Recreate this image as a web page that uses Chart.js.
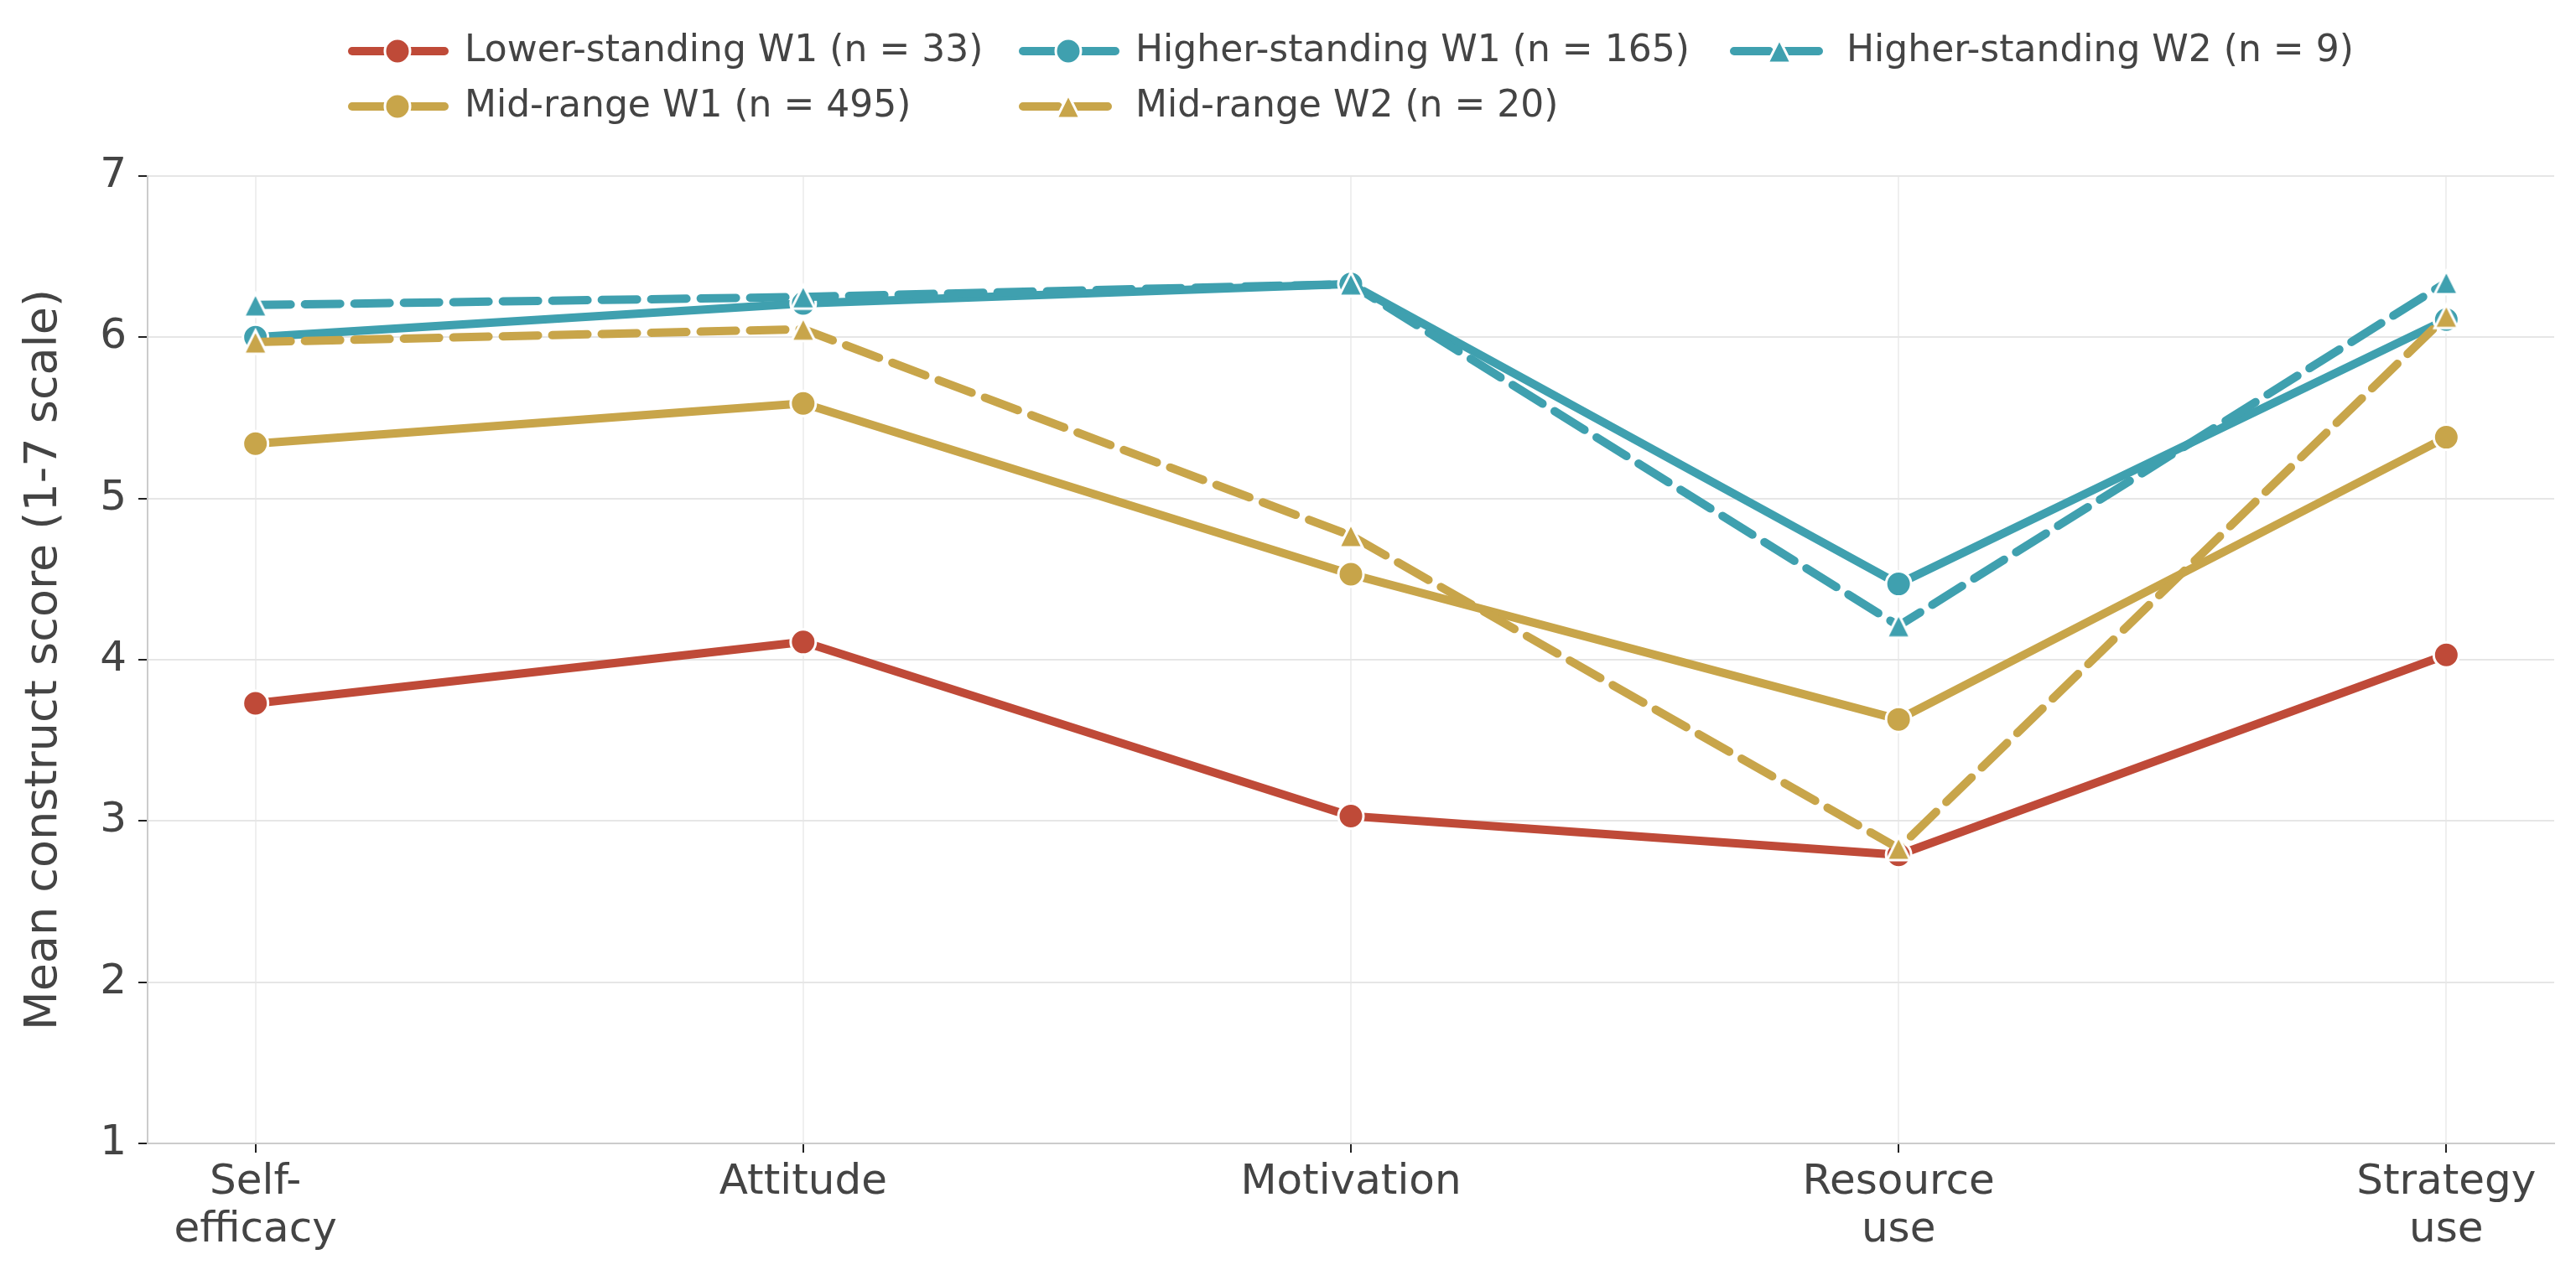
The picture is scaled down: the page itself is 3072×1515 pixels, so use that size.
<!DOCTYPE html>
<html>
<head>
<meta charset="utf-8">
<script src="https://cdn.jsdelivr.net/npm/chart.js@4.4.1/dist/chart.umd.min.js"></script>
<style>
  html, body { margin: 0; padding: 0; background: #ffffff; }
  #wrap { width: 3072px; height: 1515px; position: relative; }
</style>
</head>
<body>
<div id="wrap"><canvas id="c" width="3072" height="1515"></canvas></div>
<script>
// ---- Data ----
const categories = [["Self-", "efficacy"], "Attitude", "Motivation", ["Resource", "use"], ["Strategy", "use"]];
const yTicks = [1, 2, 3, 4, 5, 6, 7];

const seriesNames = [
  "Lower-standing W1 (n = 33)",
  "Higher-standing W1 (n = 165)",
  "Higher-standing W2 (n = 9)",
  "Mid-range W1 (n = 495)",
  "Mid-range W2 (n = 20)"
];
const lowerW1  = [3.73, 4.11, 3.03, 2.79, 4.03];
const midW1    = [5.34, 5.59, 4.53, 3.63, 5.38];
const higherW1 = [6.00, 6.21, 6.33, 4.47, 6.11];
const midW2    = [5.97, 6.05, 4.77, 2.83, 6.13];
const higherW2 = [6.20, 6.25, 6.33, 4.21, 6.34];

// ---- Styles ----
const RED = '#BF4A38', GOLD = '#C8A54A', TEAL = '#3FA0AF';
const TEXT = '#444444';
const FONT = "'DejaVu Sans', sans-serif";
const LW = 10;
const DASH = [42, 17];
const PR = 15;

function triangleImage(color) {
  const s = 40, c = document.createElement('canvas');
  c.width = s; c.height = s;
  const g = c.getContext('2d');
  const h = 14, cx = s / 2, cy = s / 2;
  g.beginPath();
  g.moveTo(cx, cy - h);
  g.lineTo(cx + h, cy + h);
  g.lineTo(cx - h, cy + h);
  g.closePath();
  g.lineJoin = 'miter';
  g.fillStyle = color;
  g.fill();
  g.lineWidth = 3;
  g.strokeStyle = '#ffffff';
  g.stroke();
  return c;
}
const triTeal = triangleImage(TEAL);
const triGold = triangleImage(GOLD);

function pts(arr) { return arr.map((v, i) => ({ x: i, y: v })); }

function ds(label, data, color, dashed, marker, order) {
  return {
    label: label,
    data: pts(data),
    borderColor: color,
    backgroundColor: color,
    borderWidth: LW,
    borderDash: dashed ? DASH : [],
    borderCapStyle: 'round',
    borderJoinStyle: 'round',
    tension: 0,
    pointStyle: marker,
    pointRadius: PR,
    pointHoverRadius: PR,
    pointBorderColor: '#ffffff',
    pointBorderWidth: 3,
    pointBackgroundColor: color,
    order: order,
    _dashed: dashed
  };
}

const datasets = [
  ds(seriesNames[0], lowerW1,  RED,  false, 'circle', 5),
  ds(seriesNames[1], higherW1, TEAL, false, 'circle', 3),
  ds(seriesNames[2], higherW2, TEAL, true,  triTeal, 1),
  ds(seriesNames[3], midW1,    GOLD, false, 'circle', 4),
  ds(seriesNames[4], midW2,    GOLD, true,  triGold, 2)
];

// ---- Custom legend (3 columns, 2 rows, column-major like the reference) ----
const legendCols = [415, 1215, 2063];
const legendRows = [61, 127];
const legendPlugin = {
  id: 'customLegend',
  afterDraw(chart) {
    const ctx = chart.ctx;
    const slots = [[0, 0], [1, 0], [2, 0], [0, 1], [1, 1]];
    chart.data.datasets.forEach((d, i) => {
      const [col, row] = slots[i];
      const x0 = legendCols[col], y = legendRows[row];
      ctx.save();
      ctx.strokeStyle = d.borderColor;
      ctx.lineWidth = LW;
      ctx.lineCap = 'round';
      ctx.setLineDash(d._dashed ? DASH : []);
      ctx.beginPath();
      ctx.moveTo(x0 + 5, y);
      ctx.lineTo(x0 + 115, y);
      ctx.stroke();
      ctx.setLineDash([]);
      const mx = x0 + 59;
      if (d.pointStyle === 'circle') {
        ctx.beginPath();
        ctx.arc(mx, y, PR, 0, Math.PI * 2);
        ctx.fillStyle = d.borderColor;
        ctx.fill();
        ctx.lineWidth = 3;
        ctx.strokeStyle = '#ffffff';
        ctx.stroke();
      } else {
        ctx.drawImage(d.pointStyle, mx - 20, y - 20);
      }
      ctx.fillStyle = TEXT;
      ctx.font = "44px " + FONT;
      ctx.textBaseline = 'middle';
      ctx.textAlign = 'left';
      ctx.fillText(d.label, x0 + 139, y + 1);
      ctx.restore();
    });
  }
};

new Chart(document.getElementById('c'), {
  type: 'line',
  data: { datasets: datasets },
  options: {
    responsive: false,
    animation: false,
    devicePixelRatio: 1,
    layout: { padding: { top: 210, right: 26, bottom: 0, left: 0 } },
    plugins: {
      legend: { display: false },
      tooltip: { enabled: false }
    },
    scales: {
      x: {
        type: 'linear',
        min: -0.197,
        max: 4.197,
        afterBuildTicks: (s) => { s.ticks = categories.map((c, i) => ({ value: i })); },
        afterFit: (s) => { s.height = 151; },
        ticks: {
          callback: (v) => categories[Math.round(v)],
          font: { family: FONT, size: 50, lineHeight: 1.14 },
          color: TEXT,
          padding: 8,
          maxRotation: 0,
          autoSkip: false
        },
        grid: {
          color: '#efefef',
          lineWidth: 2,
          drawTicks: true,
          tickLength: 11,
          tickWidth: 2,
          tickColor: '#222222'
        },
        border: { display: true, color: '#cccccc', width: 2 }
      },
      y: {
        type: 'linear',
        min: 1,
        max: 7,
        afterBuildTicks: (s) => { s.ticks = yTicks.map(v => ({ value: v })); },
        afterFit: (s) => { s.width = 176; },
        ticks: {
          font: { family: FONT, size: 50 },
          color: TEXT,
          padding: 14
        },
        grid: {
          color: '#e6e6e6',
          lineWidth: 2,
          drawTicks: true,
          tickLength: 11,
          tickWidth: 2,
          tickColor: '#222222'
        },
        border: { display: true, color: '#cccccc', width: 2 },
        title: {
          display: true,
          text: 'Mean construct score (1-7 scale)',
          font: { family: FONT, size: 54 },
          color: TEXT,
          padding: { top: 21, bottom: 0 }
        }
      }
    }
  },
  plugins: [legendPlugin]
});
</script>
</body>
</html>
